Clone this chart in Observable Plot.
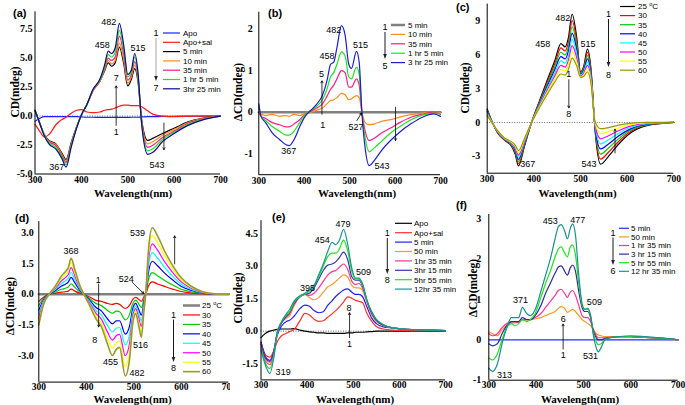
<!DOCTYPE html>
<html><head><meta charset="utf-8">
<script src="https://cdn.jsdelivr.net/npm/d3@7"></script>
<script src="https://cdn.jsdelivr.net/npm/@observablehq/plot@0.6"></script>
<style>
body{margin:0;background:#fff}
#fig{position:relative;width:685px;height:405px;overflow:hidden;background:#fff}
.panel{position:absolute}
</style></head><body><div id="fig"></div>
<script>
const SERIF = "'Liberation Serif','Times New Roman',serif";
const SANS = "'Liberation Sans',Arial,Helvetica,sans-serif";
const xTicks = [300, 400, 500, 600, 700];

// ---------- (a) ----------
const wlA = [300,310,320,330,345,358,367,378,390,400,412,425,440,450,458,465,473,482,491,500,508,515,522,530,543,555,575,600,630,660,700];
const aApo = [-0.45,-0.2,-0.05,-0.05,-0.05,-0.05,-0.05,-0.05,-0.05,-0.08,-0.1,-0.1,-0.12,-0.12,-0.12,-0.12,-0.12,-0.12,-0.12,-0.12,-0.1,-0.1,-0.1,-0.08,-0.05,-0.05,-0.03,-0.02,0,0,0];
const aApoSal = [-0.7,-1.3,-1.8,-1.6,-0.75,-0.3,-0.1,0.25,0.5,0.55,0.35,0.3,0.35,0.5,0.55,0.6,0.7,0.85,0.95,0.95,0.9,0.9,0.9,0.8,0.45,0.15,0.0,-0.05,-0.03,0,0];
const a5 = [0.5,-0.6,-1.6,-2.1,-2.4,-3.2,-3.75,-2.3,-0.9,0.1,1.0,2.2,3.0,3.9,4.6,4.3,4.6,5.95,4.6,2.6,3.2,4.1,3.0,-0.3,-2.1,-1.9,-1.5,-1.05,-0.5,-0.2,0.0];
const a10 = [0.5,-0.6,-1.6,-2.15,-2.45,-3.3,-3.9,-2.4,-0.9,0.1,1.0,2.2,3.0,4.0,4.8,4.5,4.8,6.3,4.9,2.85,3.4,4.4,3.2,-0.4,-2.4,-2.2,-1.65,-1.15,-0.55,-0.22,0.0];
const a35 = [0.5,-0.6,-1.6,-2.2,-2.55,-3.4,-4.0,-2.5,-0.95,0.1,1.0,2.2,3.1,4.1,5.0,4.8,5.1,6.9,5.4,3.1,3.6,4.7,3.4,-0.5,-2.7,-2.5,-1.85,-1.3,-0.62,-0.26,0.0];
const a65 = [0.5,-0.6,-1.6,-2.3,-2.7,-3.5,-4.2,-2.6,-1.0,0.1,1.0,2.3,3.1,4.2,5.3,5.1,5.5,7.4,5.8,3.4,3.8,5.1,3.6,-0.6,-3.0,-2.8,-2.0,-1.4,-0.7,-0.3,0.0];
const a205 = [0.5,-0.6,-1.7,-2.4,-2.85,-3.65,-4.4,-2.7,-1.0,0.1,1.0,2.3,3.2,4.4,5.6,5.4,5.9,8.0,6.2,3.6,4.0,5.4,3.8,-0.7,-3.3,-3.1,-2.2,-1.5,-0.8,-0.35,0.0];
const aNames = ["Apo","Apo+sal","5 min","10 min","35 min","1 hr 5 min","3hr 25 min"];
const aNotes = [{t:"482",x:459,y:8.1},{t:"458",x:445,y:6.1},{t:"515",x:522,y:5.9},{t:"367",x:347,y:-4.4},{t:"543",x:563,y:-4.2},{t:"7",x:475,y:3.25},{t:"1",x:475,y:-1.38}];
const aArrows = [{x1:475,y1:-0.8,x2:475,y2:2.6},{x1:578,y1:-0.6,x2:578,y2:-2.9}];

// ---------- (b) ----------
const wlB = [300,305,315,330,345,360,367,378,390,402,415,428,440,450,458,465,472,482,490,498,504,515,521,527,534,543,555,570,590,610,635,660,685,700];
const wlB0 = [300,700];
const b5 = [0,0];
const b10 = [-0.05,-0.05,-0.08,-0.05,-0.1,-0.08,-0.1,-0.05,-0.08,-0.03,0.0,0.05,0.1,0.2,0.28,0.3,0.35,0.45,0.42,0.3,0.32,0.4,0.35,0.0,-0.25,-0.3,-0.28,-0.22,-0.18,-0.12,-0.06,-0.02,0.0,-0.02];
const b35 = [0.0,-0.1,-0.15,-0.25,-0.3,-0.35,-0.35,-0.28,-0.18,-0.05,0.03,0.1,0.2,0.38,0.55,0.65,0.8,1.0,0.95,0.6,0.6,0.8,0.65,0.0,-0.45,-0.68,-0.62,-0.5,-0.38,-0.25,-0.12,-0.05,0.0,-0.05];
const b65 = [0.1,-0.1,-0.2,-0.35,-0.45,-0.55,-0.55,-0.45,-0.25,-0.05,0.05,0.15,0.3,0.55,0.85,0.95,1.15,1.45,1.35,0.85,0.8,1.08,0.9,0.0,-0.6,-0.95,-0.85,-0.7,-0.5,-0.35,-0.18,-0.07,-0.02,-0.05];
const b205 = [0.2,-0.1,-0.25,-0.5,-0.65,-0.78,-0.8,-0.65,-0.35,-0.1,0.05,0.2,0.4,0.75,1.15,1.2,1.55,2.08,1.85,1.15,1.05,1.46,1.2,0.0,-0.85,-1.28,-1.15,-0.92,-0.68,-0.48,-0.28,-0.12,-0.04,-0.1];
const bNames = ["5 min","10 min","35 min","1 hr 5 min","3 hr 25 min"];
const bNotes = [{t:"482",x:465,y:1.98},{t:"458",x:450,y:1.34},{t:"515",x:524,y:1.62},{t:"367",x:366,y:-0.94},{t:"543",x:571,y:-1.3},{t:"527",x:514,y:-0.36},{t:"5",x:438,y:0.92},{t:"1",x:441,y:-0.32}];
const bArrows = [{x1:439,y1:-0.05,x2:439,y2:0.75},{x1:601,y1:0.12,x2:601,y2:-0.68},{x1:516,y1:-0.2,x2:526,y2:-0.02}];

// ---------- (c) ----------
const wlC = [300,310,322,338,352,360,367,380,395,412,430,445,458,467,474,482,492,500,507,515,523,531,543,560,580,605,640,700];
const c25 = [1.2,0.1,-0.9,-1.6,-2.1,-2.8,-3.85,-2.1,0.0,1.9,3.9,5.5,7.0,6.7,7.5,9.6,7.5,4.5,5.0,6.5,4.5,-0.6,-3.7,-3.0,-2.0,-1.0,-0.3,0.0];
const c30 = [1.1,0.1,-0.87,-1.57,-2.04,-2.69,-3.66,-2.0,0.0,1.81,3.71,5.23,6.61,6.34,7.1,9.04,7.14,4.43,4.87,6.21,4.33,-0.5,-3.25,-2.64,-1.75,-0.87,-0.26,0.0];
const c35 = [1.0,0.1,-0.84,-1.54,-1.99,-2.57,-3.46,-1.9,0.0,1.73,3.53,4.96,6.23,5.99,6.7,8.49,6.79,4.36,4.74,5.93,4.16,-0.4,-2.8,-2.27,-1.5,-0.74,-0.21,0.0];
const c40 = [0.95,0.05,-0.81,-1.51,-1.93,-2.46,-3.27,-1.8,0.0,1.64,3.34,4.69,5.84,5.63,6.3,7.93,6.43,4.29,4.61,5.64,3.99,-0.3,-2.35,-1.91,-1.25,-0.61,-0.17,0.0];
const c45 = [0.85,0.05,-0.79,-1.49,-1.87,-2.34,-3.08,-1.7,0.0,1.56,3.16,4.41,5.46,5.27,5.9,7.37,6.07,4.21,4.49,5.36,3.81,-0.2,-1.9,-1.54,-1.0,-0.47,-0.13,0.0];
const c50 = [0.75,0.0,-0.76,-1.46,-1.81,-2.23,-2.89,-1.6,0.0,1.47,2.97,4.14,5.07,4.91,5.5,6.81,5.71,4.14,4.36,5.07,3.64,-0.1,-1.45,-1.18,-0.75,-0.34,-0.09,0.0];
const c55 = [0.7,0.0,-0.73,-1.43,-1.76,-2.11,-2.69,-1.5,0.0,1.39,2.79,3.87,4.69,4.56,5.1,6.26,5.36,4.07,4.23,4.79,3.47,0.0,-1.0,-0.81,-0.5,-0.21,-0.04,0.0];
const c60 = [0.6,0.0,-0.7,-1.4,-1.7,-2.0,-2.5,-1.4,0.0,1.3,2.6,3.6,4.3,4.2,4.7,5.7,5.0,4.0,4.1,4.5,3.3,0.1,-0.55,-0.45,-0.25,-0.08,0.0,0.0];
const tNames = ["25 °C","30","35","40","45","50","55","60"];
const cNotes = [{t:"482",x:462,y:9.3},{t:"458",x:419,y:6.97},{t:"515",x:516,y:6.97},{t:"367",x:387,y:-3.7},{t:"543",x:518,y:-3.7},{t:"1",x:475,y:4.3},{t:"8",x:475,y:0.75}];
const cArrows = [{x1:475,y1:3.8,x2:475,y2:1.3},{x1:574,y1:-2.7,x2:574,y2:-0.6}];

// ---------- (d) ----------
const wlD = [300,310,322,335,348,356,362,368,376,386,396,408,420,432,444,455,463,470,482,491,498,504,510,516,521,525,531,539,550,565,582,600,620,645,670,700];
const wlD0 = [300,700];
const d25 = [0,0];
const d30 = [-0.35,-0.15,0.0,0.05,0.1,0.12,0.15,0.25,0.15,0.05,-0.02,-0.15,-0.3,-0.35,-0.45,-0.5,-0.45,-0.5,-0.7,-0.55,-0.25,-0.15,-0.25,-0.35,-0.15,0.0,0.4,0.6,0.5,0.38,0.25,0.13,0.06,0.02,0.0,0.0];
const d35 = [-0.55,-0.21,0,0.11,0.24,0.29,0.35,0.51,0.33,0.12,-0.03,-0.23,-0.45,-0.56,-0.78,-0.93,-0.83,-0.86,-1.26,-1.0,-0.45,-0.29,-0.46,-0.65,-0.28,0,0.71,1.05,0.9,0.67,0.45,0.24,0.12,0.04,0,0];
const d40 = [-0.79,-0.28,0,0.18,0.4,0.49,0.59,0.82,0.55,0.2,-0.03,-0.32,-0.64,-0.83,-1.19,-1.45,-1.31,-1.3,-1.95,-1.56,-0.69,-0.45,-0.73,-1.02,-0.44,0,1.08,1.61,1.39,1.03,0.69,0.38,0.19,0.06,0.01,0];
const d45 = [-0.97,-0.34,0,0.24,0.53,0.65,0.77,1.06,0.72,0.27,-0.04,-0.39,-0.79,-1.03,-1.5,-1.85,-1.67,-1.63,-2.48,-1.98,-0.87,-0.58,-0.93,-1.3,-0.56,0,1.37,2.03,1.77,1.31,0.87,0.49,0.24,0.07,0.01,0];
const d50 = [-1.16,-0.4,0,0.3,0.66,0.81,0.96,1.3,0.89,0.33,-0.04,-0.47,-0.93,-1.23,-1.82,-2.25,-2.03,-1.97,-3.01,-2.41,-1.06,-0.71,-1.13,-1.58,-0.68,0,1.66,2.46,2.15,1.58,1.06,0.6,0.3,0.09,0.01,0];
const d55 = [-1.34,-0.45,0,0.35,0.79,0.96,1.14,1.54,1.05,0.39,-0.05,-0.54,-1.07,-1.43,-2.13,-2.65,-2.39,-2.31,-3.54,-2.83,-1.24,-0.84,-1.33,-1.86,-0.8,0,1.95,2.88,2.52,1.86,1.24,0.71,0.35,0.11,0.02,0];
const d60 = [-1.5,-0.5,0,0.4,0.9,1.1,1.3,1.75,1.2,0.45,-0.05,-0.6,-1.2,-1.6,-2.4,-3.0,-2.7,-2.6,-4.0,-3.2,-1.4,-0.95,-1.5,-2.1,-0.9,0,2.2,3.25,2.85,2.1,1.4,0.8,0.4,0.12,0.02,0];
const dNotes = [{t:"368",x:368,y:2.1},{t:"539",x:508,y:3.0},{t:"524",x:484,y:0.72},{t:"455",x:451,y:-3.33},{t:"482",x:507,y:-3.87},{t:"516",x:514,y:-2.51},{t:"1",x:425,y:0.67},{t:"8",x:418,y:-2.25}];
const dArrows = [{x1:497,y1:0.58,x2:521,y2:0.03},{x1:426,y1:0.5,x2:426,y2:-1.6},{x1:586,y1:1.48,x2:586,y2:2.85}];

// ---------- (e) ----------
const wlE = [300,310,319,328,335,345,355,362,372,385,395,405,415,425,435,445,454,462,470,479,488,497,505,512,520,530,540,550,565,585,610,640,670,700];
const eApo = [-0.3,-0.1,0.0,0.05,0.08,0.1,0.1,0.1,0.12,0.05,0.0,-0.03,-0.05,-0.08,-0.08,-0.1,-0.1,-0.1,-0.1,-0.1,-0.08,-0.08,-0.05,-0.05,-0.05,-0.03,-0.02,0,0,0,0,0,0,0];
const eApoSal = [-0.5,-1.1,-1.2,-0.9,-0.5,-0.2,-0.1,-0.02,0.08,0.5,0.82,0.75,0.55,0.45,0.48,0.65,0.8,0.95,1.12,1.35,1.58,1.52,1.42,1.38,1.32,0.8,0.45,0.22,0.1,0.05,0.03,0.02,0.02,0.0];
const e5 = [-0.5,-1.2,-1.35,-0.9,-0.2,0.25,0.45,0.5,0.7,1.05,1.2,1.15,0.95,0.85,0.9,1.2,1.4,1.6,1.75,1.9,1.95,1.8,1.7,1.7,1.6,1.1,0.6,0.35,0.2,0.15,0.1,0.07,0.05,0.03];
const e50 = [-0.6,-1.3,-1.45,-0.9,-0.1,0.4,0.6,0.7,1.2,1.6,1.7,1.55,1.45,1.55,1.8,2.05,2.15,2.3,2.45,2.6,2.5,2.1,2.0,2.0,1.9,1.3,0.75,0.45,0.25,0.15,0.1,0.07,0.05,0.03];
const e95 = [-0.7,-1.4,-1.55,-1.0,-0.1,0.4,0.65,0.8,1.25,1.6,1.7,1.65,1.75,2.0,2.3,2.6,2.75,2.8,2.95,3.1,2.85,2.3,2.15,2.2,2.0,1.35,0.8,0.5,0.28,0.15,0.1,0.07,0.05,0.03];
const e195 = [-0.6,-1.25,-1.4,-0.9,-0.1,0.4,0.7,0.85,1.3,1.6,1.7,1.75,2.0,2.4,2.8,3.05,3.1,3.2,3.4,3.65,3.3,2.5,2.35,2.35,2.1,1.4,0.85,0.5,0.28,0.15,0.1,0.07,0.05,0.03];
const e355 = [-0.8,-1.5,-1.72,-1.1,-0.1,0.45,0.75,0.9,1.35,1.6,1.7,1.85,2.1,2.5,3.0,3.45,3.6,3.6,3.8,4.2,3.7,2.75,2.4,2.4,2.15,1.4,0.9,0.55,0.3,0.15,0.1,0.07,0.05,0.03];
const e755 = [-0.9,-1.6,-1.95,-1.2,-0.1,0.45,0.8,1.0,1.4,1.65,1.75,1.9,2.1,2.6,3.1,3.7,4.1,4.0,4.2,4.7,4.0,2.9,2.45,2.45,2.2,1.4,0.9,0.55,0.3,0.15,0.1,0.07,0.05,0.03];
const eNames = ["Apo","Apo+sal","5 min","50 min","1hr 35 min","3hr 15 min","5hr 55 min","12hr 35 min"];
const eNotes = [{t:"479",x:478,y:4.92},{t:"454",x:433,y:4.2},{t:"509",x:522,y:2.72},{t:"395",x:401,y:2.0},{t:"319",x:348,y:-1.88},{t:"8",x:491,y:1.05},{t:"1",x:492,y:-0.6}];
const eArrows = [{x1:492,y1:-0.3,x2:492,y2:0.85}];

// ---------- (f) ----------
const wlF = [300,308,318,328,338,348,355,363,371,380,388,398,410,420,430,440,447,453,460,466,472,477,483,490,497,503,509,515,521,527,531,537,545,555,575,600,630,660,700];
const wlF0 = [300,700];
const f5 = [0,0];
const f50 = [0.2,0.15,0.1,0.25,0.35,0.42,0.42,0.45,0.5,0.5,0.5,0.52,0.55,0.6,0.65,0.7,0.78,0.82,0.78,0.68,0.72,0.75,0.7,0.6,0.5,0.45,0.4,0.35,0.25,0.15,0.12,0.1,0.08,0.08,0.08,0.08,0.06,0.04,0.0];
const f95 = [0.15,0.1,0.15,0.3,0.4,0.45,0.45,0.42,0.5,0.5,0.5,0.55,0.65,0.8,0.95,1.1,1.22,1.25,1.15,1.05,1.18,1.22,1.1,0.85,0.6,0.55,0.55,0.45,0.25,0.1,0.05,0.05,0.05,0.06,0.08,0.08,0.06,0.04,0.0];
const f195 = [-0.1,-0.15,-0.1,0.15,0.35,0.45,0.45,0.45,0.55,0.5,0.5,0.6,0.85,1.15,1.4,1.65,1.8,1.83,1.7,1.6,1.78,1.85,1.7,1.2,0.8,0.7,0.7,0.55,0.2,0.05,0.0,0.0,0.03,0.05,0.08,0.08,0.06,0.04,0.0];
const f355 = [-0.45,-0.5,-0.35,0.0,0.3,0.4,0.35,0.4,0.5,0.45,0.5,0.65,1.05,1.4,1.7,2.05,2.25,2.3,2.15,2.05,2.3,2.35,2.1,1.4,0.85,0.75,0.75,0.6,0.15,-0.05,-0.12,-0.1,0.0,0.05,0.08,0.08,0.06,0.04,0.0];
const f755 = [-0.7,-0.78,-0.6,-0.1,0.3,0.55,0.55,0.55,0.8,0.65,0.6,0.75,1.2,1.6,2.0,2.5,2.8,2.85,2.7,2.5,2.75,2.87,2.6,1.6,0.9,0.75,0.78,0.6,0.1,-0.2,-0.3,-0.2,0.0,0.05,0.08,0.1,0.08,0.05,0.0];
const fNames = ["5 min","50 min","1 hr 35 min","3 hr 15 min","5 hr 55 min","12 hr 35 min"];
const fNotes = [{t:"453",x:430,y:2.93},{t:"477",x:488,y:2.97},{t:"371",x:367,y:0.97},{t:"509",x:523,y:0.93},{t:"313",x:333,y:-0.87},{t:"531",x:515,y:-0.4},{t:"6",x:457,y:0.51},{t:"1",x:457,y:-0.37}];
const fArrows = [{x1:457,y1:-0.23,x2:457,y2:0.39}];

// ---------- colours ----------
const TCOL = ["#000000","#ff0000","#00cc00","#0000ff","#00ffff","#ff00ff","#ffff00","#999900"];

const f1 = d => d.toFixed(1);
const f0 = d => String(d);

const panels = [
  {ox:0, oy:0, w:228, h:200, ml:34.5, mr:8, mt:11.3, mb:26.5, yd:[-5,9], yt:[-5,-2.5,0,2.5,5,7.5], yf:f1, yp:2.5, xp:2.5,
   ylab:"CD(mdeg)", ylx:15, yly:92, xlx:133, xly:196.5, letter:"(a)", lx:13, ly:17, dotted:true,
   series:[
     {name:aNames[0], wl:wlA, v:aApo, color:"#1f1fff"},
     {name:aNames[1], wl:wlA, v:aApoSal, color:"#ff1a1a"},
     {name:aNames[2], wl:wlA, v:a5, color:"#000000"},
     {name:aNames[3], wl:wlA, v:a10, color:"#ff8c1a"},
     {name:aNames[4], wl:wlA, v:a35, color:"#ff1a8c"},
     {name:aNames[5], wl:wlA, v:a65, color:"#22e022"},
     {name:aNames[6], wl:wlA, v:a205, color:"#0a0a90"}],
   notes:aNotes, arrows:aArrows,
   leg:{x0:163,x1:180,tx:183,y0:33,dy:9.3, mx:156, t1:"1", t2:"7", my1:33, my2:88, ma:38, mb:81, mc:"#9a9a9a"}},
  {ox:228, oy:0, w:228, h:200, ml:30.3, mr:16, mt:11.7, mb:25.8, yd:[-1.5,2.4], yt:[-1,0,1,2], yf:f0, yp:6, xp:2.5,
   ylab:"\u0394CD(mdeg)", ylx:9.5, yly:92, xlx:129, xly:196.5, letter:"(b)", lx:40, ly:17, dotted:false,
   series:[
     {name:bNames[0], wl:wlB0, v:b5, color:"#808080", lw:2.5},
     {name:bNames[1], wl:wlB, v:b10, color:"#ff8c1a"},
     {name:bNames[2], wl:wlB, v:b35, color:"#ff1a8c"},
     {name:bNames[3], wl:wlB, v:b65, color:"#22e022"},
     {name:bNames[4], wl:wlB, v:b205, color:"#1e1ec8"}],
   notes:bNotes, arrows:bArrows,
   leg:{x0:163,x1:177,tx:180,y0:25,dy:9.4, mx:157, t1:"1", t2:"5", my1:27, my2:66, ma:32, mb:59, mc:"#000"}},
  {ox:456, oy:0, w:229, h:200, ml:30.7, mr:11.7, mt:3.6, mb:27.3, yd:[-4.5,10.5], yt:[-3,0,3,6,9], yf:f0, yp:7, xp:2.5,
   ylab:"CD(mdeg)", ylx:9, yly:88, xlx:121.5, xly:196.5, letter:"(c)", lx:0, ly:11, dotted:true,
   series:[c25,c30,c35,c40,c45,c50,c55,c60].map((v,i)=>({name:tNames[i], wl:wlC, v, color:TCOL[i]})),
   notes:cNotes, arrows:cArrows,
   leg:{x0:164,x1:179,tx:182,y0:6.5,dy:9.1, mx:152.5, t1:"1", t2:"8", my1:14, my2:75, ma:19, mb:67, mc:"#000"}},
  {ox:0, oy:200, w:230, h:205, ml:38.3, mr:1.7, mt:21.1, mb:23.4, yd:[-4.3,3.55], yt:[-3,-1.5,0,1.5,3], yf:f1, yp:5, xp:1.5,
   ylab:"\u0394CD(mdeg)", ylx:10, yly:106, xlx:132.5, xly:203, letter:"(d)", lx:15, ly:22, dotted:false,
   series:[
     {name:tNames[0], wl:wlD0, v:d25, color:"#808080", lw:2.5},
     ...[d30,d35,d40,d45,d50,d55].map((v,i)=>({name:tNames[i+1], wl:wlD, v, color:TCOL[i+1]})),
     {name:tNames[7], wl:wlD, v:d60, color:"#999933", lw:1.6}],
   notes:dNotes, arrows:dArrows,
   leg:{x0:183,x1:200,tx:202,y0:105.5,dy:9.45, mx:173.5, t1:"1", t2:"8", my1:115, my2:168, ma:119.5, mb:162, mc:"#000"}},
  {ox:230, oy:200, w:226, h:205, ml:30.5, mr:11, mt:20.2, mb:25.6, yd:[-2.25,5.1], yt:[-1.5,0,1.5,3,4.5], yf:f1, yp:3, xp:1.5,
   ylab:"CD(mdeg)", ylx:8, yly:98, xlx:125, xly:203, letter:"(e)", lx:42, ly:21, dotted:true,
   series:[
     {name:eNames[0], wl:wlE, v:eApo, color:"#000000"},
     {name:eNames[1], wl:wlE, v:eApoSal, color:"#ff3030"},
     {name:eNames[2], wl:wlE, v:e5, color:"#1f1fff"},
     {name:eNames[3], wl:wlE, v:e50, color:"#ff9933"},
     {name:eNames[4], wl:wlE, v:e95, color:"#ff3399"},
     {name:eNames[5], wl:wlE, v:e195, color:"#3535b5"},
     {name:eNames[6], wl:wlE, v:e355, color:"#22e022"},
     {name:eNames[7], wl:wlE, v:e755, color:"#1f9494"}],
   notes:eNotes, arrows:eArrows,
   leg:{x0:165,x1:182,tx:184,y0:23.3,dy:9.4, mx:157.3, t1:"1", t2:"8", my1:33.3, my2:80, ma:38, mb:74, mc:"#000"}},
  {ox:456, oy:200, w:229, h:205, ml:32.3, mr:7.3, mt:14, mb:25.3, yd:[-1,3.1], yt:[-1,0,1,2,3], yf:f0, yp:7.5, xp:1.5,
   ylab:"\u0394CD(mdeg)", ylx:17, yly:88, xlx:124, xly:203, letter:"(f)", lx:0, ly:9, dotted:false,
   series:[
     {name:fNames[0], wl:wlF0, v:f5, color:"#2a2aff"},
     {name:fNames[1], wl:wlF, v:f50, color:"#ff9426"},
     {name:fNames[2], wl:wlF, v:f95, color:"#ff3399"},
     {name:fNames[3], wl:wlF, v:f195, color:"#2b2ba5"},
     {name:fNames[4], wl:wlF, v:f355, color:"#22e022"},
     {name:fNames[5], wl:wlF, v:f755, color:"#1f8f8f"}],
   notes:fNotes, arrows:fArrows,
   leg:{x0:163,x1:173,tx:175,y0:28.3,dy:8.6, mx:157, t1:"1", t2:"6", my1:33.3, my2:71, ma:37.5, mb:65, mc:"#000"}}
];

const fig = document.getElementById("fig");

function addLegendText(sel, name) {
  if (name.includes("°")) {
    const parts = name.split("°");
    sel.text(parts[0]);
    sel.append("tspan").attr("dy", -3).attr("font-size", 5.5).text("o");
    sel.append("tspan").attr("dy", 3).text(parts[1]);
  } else sel.text(name);
}

for (const p of panels) {
  const marks = [];
  if (p.dotted) marks.push(Plot.ruleY([0], {stroke: "#444", strokeWidth: 0.8, strokeDasharray: "1,1.5"}));
  for (const s of p.series) {
    const rows = s.wl.map((x, i) => ({x, y: s.v[i]}));
    marks.push(Plot.line(rows, {x: "x", y: "y", stroke: s.color, strokeWidth: s.lw || 1.2, curve: "monotone-x"}));
  }
  marks.push(Plot.ruleX([300], {stroke: "black", strokeWidth: 1}));
  marks.push(Plot.ruleY([p.yd[0]], {stroke: "black", strokeWidth: 1}));
  marks.push(Plot.axisX({ticks: xTicks, tickSize: 0, tickPadding: p.xp, tickFormat: f0, label: null,
    fontFamily: SERIF, fontWeight: "bold", fontSize: 9.5}));
  marks.push(Plot.axisY({ticks: p.yt, tickSize: 0, tickPadding: p.yp, tickFormat: p.yf, label: null,
    fontFamily: SERIF, fontWeight: "bold", fontSize: 10}));
  marks.push(Plot.arrow(p.arrows, {x1: "x1", y1: "y1", x2: "x2", y2: "y2", stroke: "black", strokeWidth: 0.8, headLength: 4}));
  marks.push(Plot.text(p.notes, {x: "x", y: "y", text: "t", fontFamily: SANS, fontSize: 9, fontWeight: "normal", fill: "black", lineAnchor: "middle"}));

  const svg = Plot.plot({
    width: p.w, height: p.h,
    marginLeft: p.ml, marginRight: p.mr, marginTop: p.mt, marginBottom: p.mb,
    x: {domain: [300, 700]},
    y: {domain: p.yd},
    style: {fontFamily: SERIF, fontSize: "10px", fontWeight: "bold", background: "transparent", overflow: "hidden", color: "black"},
    marks
  });

  const g = d3.select(svg);
  g.append("text").attr("x", p.xlx).attr("y", p.xly).attr("text-anchor", "middle")
    .attr("font-family", SERIF).attr("font-weight", "bold").attr("font-size", 11).attr("fill", "black")
    .text("Wavelength(nm)");
  g.append("text").attr("transform", `translate(${p.ylx},${p.yly}) rotate(-90)`).attr("text-anchor", "middle")
    .attr("dy", "0.35em").attr("font-family", SERIF).attr("font-weight", "bold").attr("font-size", 11.5).attr("fill", "black")
    .text(p.ylab);
  g.append("text").attr("x", p.lx).attr("y", p.ly).attr("text-anchor", "start")
    .attr("font-family", SANS).attr("font-weight", "bold").attr("font-size", 11).attr("fill", "black")
    .text(p.letter);
  const L = p.leg;
  const lg = g.append("g").attr("font-family", SANS).attr("font-weight", "normal").attr("font-size", 8).attr("fill", "black");
  p.series.forEach((s, i) => {
    const y = L.y0 + i * L.dy;
    lg.append("line").attr("x1", L.x0).attr("x2", L.x1).attr("y1", y).attr("y2", y)
      .attr("stroke", s.color).attr("stroke-width", s.lw ? Math.min(s.lw, 2.5) : 1.2);
    const t = lg.append("text").attr("x", L.tx).attr("y", y).attr("dy", "0.35em").attr("text-anchor", "start");
    addLegendText(t, s.name);
  });
  lg.append("text").attr("x", L.mx).attr("y", L.my1).attr("dy", "0.35em").attr("text-anchor", "middle").attr("font-size", 9).text(L.t1);
  lg.append("text").attr("x", L.mx).attr("y", L.my2).attr("dy", "0.35em").attr("text-anchor", "middle").attr("font-size", 9).text(L.t2);
  lg.append("line").attr("x1", L.mx).attr("x2", L.mx).attr("y1", L.ma).attr("y2", L.mb - 3)
    .attr("stroke", L.mc).attr("stroke-width", 0.9);
  lg.append("path").attr("d", `M${L.mx - 1.8},${L.mb - 5} L${L.mx},${L.mb} L${L.mx + 1.8},${L.mb - 5} Z`).attr("fill", "#222");

  const div = document.createElement("div");
  div.className = "panel";
  div.style.left = p.ox + "px";
  div.style.top = p.oy + "px";
  div.appendChild(svg);
  fig.appendChild(div);
}
</script></body></html>
